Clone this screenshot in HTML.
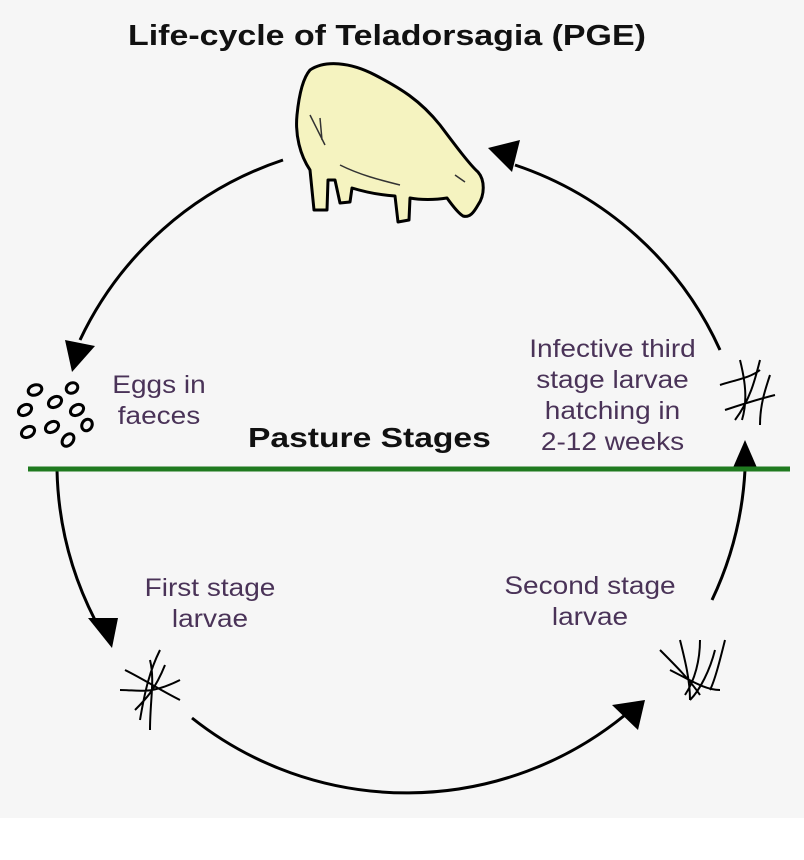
<!DOCTYPE html>
<html><head><style>
html,body{margin:0;padding:0;background:#fff;}
.wrap{position:relative;width:804px;height:860px;overflow:hidden;}
.bg{position:absolute;left:0;top:0;width:804px;height:818px;background:#f6f6f6;}
.t{position:absolute;font-family:"Liberation Sans",sans-serif;color:#4a3358;font-size:25px;line-height:31px;text-align:center;transform:scaleX(1.12);}
.b{position:absolute;font-family:"Liberation Sans",sans-serif;font-weight:bold;color:#111;transform-origin:0 0;}
</style></head><body><div class="wrap">
<div class="bg"></div>
<svg width="804" height="860" style="position:absolute;left:0;top:0">
<g fill="none" stroke="#000" stroke-width="3">
<path d="M283,160 A345,345 0 0 0 80,340"/>
<path d="M57,470 A345,345 0 0 0 95,620"/>
<path d="M192,718 A345,345 0 0 0 625,715"/>
<path d="M712,600 A345,345 0 0 0 745,470"/>
<path d="M720,350 A345,345 0 0 0 515,165"/>
</g>
<g fill="#000">
<path d="M65,340 L95,346 L72,372z"/>
<path d="M88,618 L118,618 L112,648z"/>
<path d="M612,705 L645,700 L638,730z"/>
<path d="M732,470 L758,470 L745,440z"/>
<path d="M488,148 L520,140 L512,172z"/>
</g>
<line x1="28" y1="469" x2="790" y2="469" stroke="#1f7a1f" stroke-width="5"/>
<g fill="none" stroke="#000" stroke-width="3">
<ellipse cx="35" cy="390" rx="7" ry="5" transform="rotate(-20 35 390)"/>
<ellipse cx="72" cy="388" rx="6" ry="5" transform="rotate(-30 72 388)"/>
<ellipse cx="55" cy="402" rx="7" ry="5" transform="rotate(-30 55 402)"/>
<ellipse cx="25" cy="410" rx="7" ry="5" transform="rotate(-30 25 410)"/>
<ellipse cx="77" cy="410" rx="7" ry="5" transform="rotate(-30 77 410)"/>
<ellipse cx="87" cy="425" rx="6" ry="5" transform="rotate(-60 87 425)"/>
<ellipse cx="28" cy="432" rx="7" ry="5" transform="rotate(-30 28 432)"/>
<ellipse cx="52" cy="427" rx="7" ry="5" transform="rotate(-30 52 427)"/>
<ellipse cx="68" cy="440" rx="7" ry="5" transform="rotate(-50 68 440)"/>
</g>
<g fill="none" stroke="#000" stroke-width="2">
<path d="M160,650 C150,670 145,690 140,720 M125,670 C145,680 160,690 180,700 M120,690 C140,690 150,695 180,680 M135,710 C145,700 155,690 165,665 M150,660 C155,680 150,700 150,730"/>
<path d="M660,650 C675,665 690,680 700,695 M680,640 C685,660 690,680 690,700 M700,640 C700,660 695,680 685,695 M715,650 C710,670 700,690 690,700 M670,670 C690,680 705,690 720,690 M725,640 C720,660 715,680 710,690"/>
<path d="M740,360 C745,380 748,400 742,420 M720,385 C735,380 750,378 760,370 M760,360 C755,380 750,400 735,420 M770,375 C765,390 760,405 760,425 M725,410 C740,405 755,400 775,395"/>
</g>
<path d="M310,70 C325,60 350,62 375,75 C400,88 420,100 440,125 C455,145 470,165 478,172 C485,180 485,195 478,205 C474,212 470,218 463,216 C458,213 452,205 447,198 C435,200 420,200 410,198 L409,220 L398,222 L395,196 C380,195 365,192 352,188 L350,202 L340,203 L335,180 L328,180 L327,210 L314,210 L310,170 C300,155 295,135 297,115 C299,95 303,78 310,70 Z" fill="#f5f3c0" stroke="#000" stroke-width="3" stroke-linejoin="round"/>
<g fill="none" stroke="#333" stroke-width="1.5">
<path d="M310,115 L325,145 M320,118 L322,140 M455,175 L465,182 M340,165 C360,175 380,180 400,185"/>
</g>
</svg>
<div class="b" style="left:128px;top:20px;font-size:29px;transform:scaleX(1.17);">Life-cycle of Teladorsagia (PGE)</div>
<div class="b" style="left:248px;top:422px;font-size:28px;transform:scaleX(1.2);">Pasture Stages</div>
<div class="t" style="left:100px;top:370px;width:118px;">Eggs in<br>faeces</div>
<div class="t" style="left:500px;top:334px;width:225px;">Infective third<br>stage larvae<br>hatching in<br>2-12 weeks</div>
<div class="t" style="left:120px;top:573px;width:180px;">First stage<br>larvae</div>
<div class="t" style="left:490px;top:571px;width:200px;">Second stage<br>larvae</div>
</div></body></html>
